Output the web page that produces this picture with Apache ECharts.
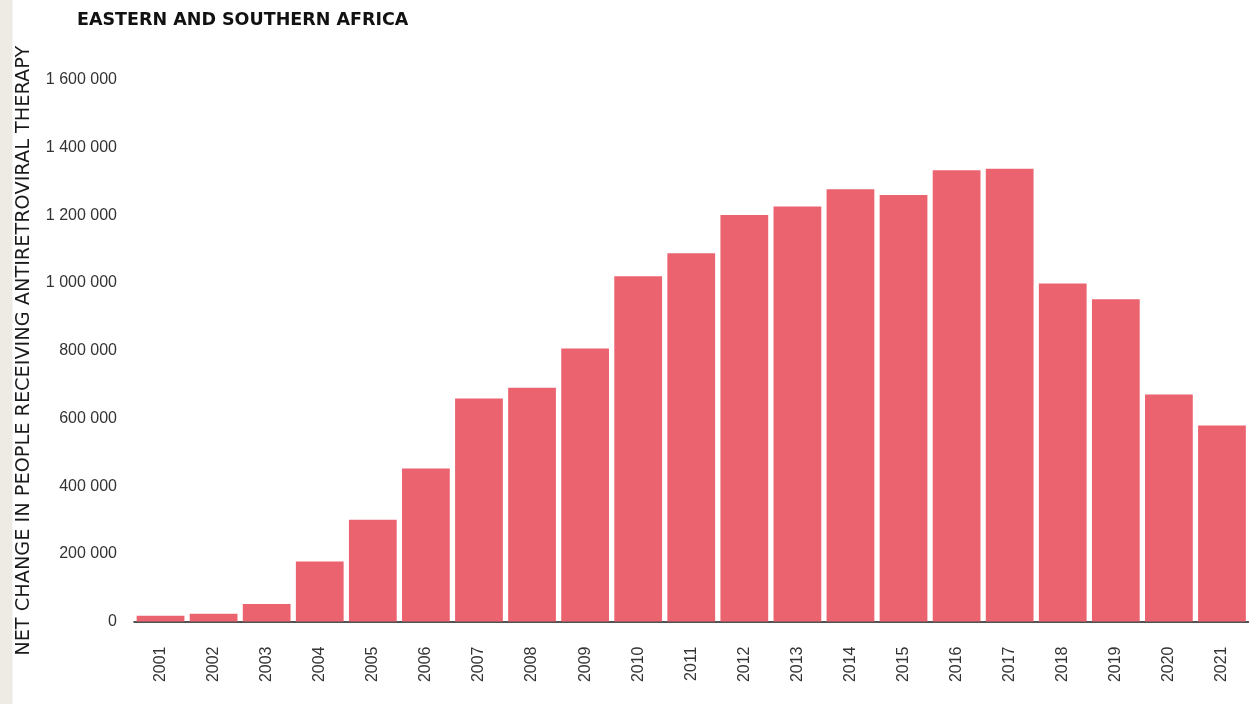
<!DOCTYPE html>
<html>
<head>
<meta charset="utf-8">
<script src="https://cdn.jsdelivr.net/npm/echarts@6/dist/echarts.min.js"></script>
<style>
html,body{margin:0;padding:0;background:#fff;}
#chart{width:1260px;height:704px;}
</style>
</head>
<body>
<div id="chart"></div>
<script>
const title = "EASTERN AND SOUTHERN AFRICA";
const yAxisTitle = "NET CHANGE IN PEOPLE RECEIVING ANTIRETROVIRAL THERAPY";
const years = ["2001","2002","2003","2004","2005","2006","2007","2008","2009","2010","2011","2012","2013","2014","2015","2016","2017","2018","2019","2020","2021"];
const netChange = [17000, 23000, 52000, 177000, 301000, 452000, 659000, 691000, 807000, 1020000, 1088000, 1201000, 1226000, 1277000, 1260000, 1333000, 1338000, 999000, 952000, 671000, 579000];
const yTicks = { min: 0, max: 1600000, step: 200000 };

function fmt(v){ return String(v).replace(/\B(?=(\d{3})+(?!\d))/g, ' '); }

const chart = echarts.init(document.getElementById('chart'), null, {renderer:'canvas'});
chart.setOption({
  animation: false,
  backgroundColor: '#ffffff',
  graphic: [
    { type: 'rect', left: 0, top: 0, shape: { width: 12.5, height: 704 }, style: { fill: '#eeebe4' }, z: 0 },
    { type: 'text', left: 77, top: 11, style: { text: title, font: 'bold 17.5px "DejaVu Sans"', fill: '#111111' } }
  ],
  grid: { left: 134, right: 11.5, top: 80, bottom: 82.5, containLabel: false, outerBoundsMode: 'none' },
  xAxis: {
    type: 'category',
    data: years,
    axisLine: { show: true, lineStyle: { color: '#1a1a1a', width: 1.5 } },
    axisTick: { show: false },
    axisLabel: { rotate: 90, margin: 25, fontSize: 16, color: '#333333', fontFamily: '"Liberation Sans", Arial, sans-serif' },
    splitLine: { show: false }
  },
  yAxis: {
    type: 'value',
    min: yTicks.min, max: yTicks.max, interval: yTicks.step,
    name: yAxisTitle,
    nameLocation: 'middle',
    nameGap: 101,
    nameTextStyle: { fontSize: 19.3, fontFamily: '"DejaVu Sans", sans-serif', color: '#1a1a1a', padding: [0, 0, 0, 0] },
    axisLine: { show: false },
    axisTick: { show: false },
    splitLine: { show: false },
    axisLabel: { formatter: fmt, margin: 17, fontSize: 16, color: '#333333', fontFamily: '"Liberation Sans", Arial, sans-serif' }
  },
  series: [{
    type: 'bar',
    data: netChange,
    barCategoryGap: '10%',
    itemStyle: { color: '#EC6370' }
  }]
});
</script>
</body>
</html>
